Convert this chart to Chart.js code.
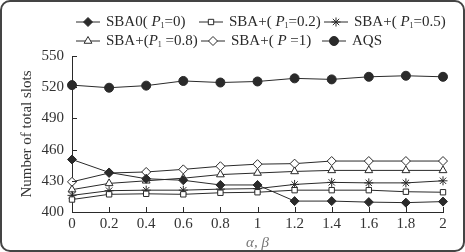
<!DOCTYPE html>
<html lang="en">
<head>
<meta charset="UTF-8">
<script src="https://cdn.jsdelivr.net/npm/chart.js@4"></script>
<style>
    body { margin: 0; background: #fff; }
    #wrap { position: relative; width: 465px; height: 252px; }
    #frame {
        position: absolute; left: 0; top: 0; right: 0; bottom: 0;
        border: 2px solid #444; border-radius: 10px;
        box-sizing: border-box; pointer-events: none;
    }
</style>
</head>
<body>
<div id="wrap">
    <canvas id="myChart" width="465" height="252"></canvas>
    <div id="frame"></div>
</div>
<script>
// x values (alpha, beta)
var xLabels = ['0', '0.2', '0.4', '0.6', '0.8', '1', '1.2', '1.4', '1.6', '1.8', '2'];

// number of total slots per series
var sba0   = [450.5, 438, 432, 430.5, 426, 426, 410.5, 410.5, 409.5, 409, 410];
var sbaP02 = [412, 417, 417.5, 417, 418.5, 419, 421, 421, 421, 419.5, 419];
var sbaP05 = [416, 420.5, 421, 421, 422, 422.5, 426.5, 428.5, 428, 428, 430];
var sbaP08 = [421.5, 427.5, 430, 432.5, 436, 437.5, 439, 440, 440, 440, 440];
var sbaP1  = [429, 437.5, 438.5, 441, 444, 446, 446.5, 449, 449, 449, 449];
var aqs    = [522, 519.5, 521.5, 526, 524.5, 525.5, 528.5, 527.5, 530, 531, 530];

var yTicks = [400, 430, 460, 490, 520, 550];

// legend texts, split in [text, italic?, subscript?] parts
var legendParts = [
    [['SBA0( '], ['P', 1], ['1', 0, 1], ['=0)']],
    [['SBA+( '], ['P', 1], ['1', 0, 1], ['=0.2)']],
    [['SBA+( '], ['P', 1], ['1', 0, 1], ['=0.5)']],
    [['SBA+('], ['P', 1], ['1', 0, 1], [' =0.8)']],
    [['SBA+( '], ['P', 1], [' =1)']],
    [['AQS']]
];

var FONT = "'Liberation Serif', 'DejaVu Serif', serif";
var INK = '#2a2a2a';

function series(label, data, style, fill, r) {
    return {
        label: label,
        data: data,
        borderColor: INK,
        borderWidth: 1,
        pointStyle: style,
        pointRadius: r,
        pointHoverRadius: r,
        pointBackgroundColor: fill,
        pointBorderColor: INK,
        pointBorderWidth: 1,
        tension: 0,
        fill: false
    };
}

var datasets = [
    series('SBA0', sba0, 'rectRot', INK, 4.5),
    series('P0.2', sbaP02, 'rect', '#fff', 3.8),
    series('P0.5', sbaP05, 'star', '#fff', 4.5),
    series('P0.8', sbaP08, 'triangle', '#fff', 4.5),
    series('P1', sbaP1, 'rectRot', '#fff', 4.5),
    series('AQS', aqs, 'circle', INK, 4.5)
];

// legend drawn by hand so the italic P and subscript can be shown
var legendSpots = [[76, 22], [199, 22], [324, 22], [76, 41], [201, 41], [322, 41]];

var legendPlugin = {
    id: 'handLegend',
    afterDraw: function (chart) {
        var ctx = chart.ctx;
        ctx.save();
        chart.data.datasets.forEach(function (ds, i) {
            var x = legendSpots[i][0], y = legendSpots[i][1];
            ctx.strokeStyle = INK;
            ctx.lineWidth = 1;
            ctx.beginPath();
            ctx.moveTo(x, y);
            ctx.lineTo(x + 24, y);
            ctx.stroke();
            ctx.fillStyle = ds.pointBackgroundColor;
            Chart.helpers.drawPoint(ctx, {
                pointStyle: ds.pointStyle, radius: ds.pointRadius, rotation: 0, borderWidth: 1
            }, x + 12, y);
            var tx = x + 30;
            ctx.fillStyle = INK;
            ctx.textBaseline = 'middle';
            legendParts[i].forEach(function (p) {
                if (p[2]) {
                    ctx.font = '8px ' + FONT;
                    ctx.fillText(p[0], tx, y + 4);
                } else {
                    ctx.font = (p[1] ? 'italic ' : '') + '15px ' + FONT;
                    ctx.fillText(p[0], tx, y);
                }
                tx += ctx.measureText(p[0]).width;
            });
        });
        ctx.restore();
    }
};

// short inward tick marks on both axes
var tickPlugin = {
    id: 'inTicks',
    afterDraw: function (chart) {
        var ctx = chart.ctx, area = chart.chartArea;
        var xs = chart.scales.x, ys = chart.scales.y;
        ctx.save();
        ctx.strokeStyle = INK;
        ctx.lineWidth = 1;
        ctx.beginPath();
        yTicks.forEach(function (v) {
            var py = Math.round(ys.getPixelForValue(v)) + 0.5;
            ctx.moveTo(area.left, py);
            ctx.lineTo(area.left + 5, py);
        });
        xLabels.forEach(function (l, i) {
            var px = Math.round(xs.getPixelForValue(i)) + 0.5;
            ctx.moveTo(px, area.bottom);
            ctx.lineTo(px, area.bottom - 5);
        });
        ctx.stroke();
        ctx.restore();
    }
};

var ctx = document.getElementById('myChart').getContext('2d');
var myChart = new Chart(ctx, {
    type: 'line',
    data: { labels: xLabels, datasets: datasets },
    options: {
        responsive: false,
        animation: false,
        layout: { padding: { top: 56, right: 22, left: 0, bottom: 0 } },
        plugins: { legend: { display: false }, tooltip: { enabled: false } },
        scales: {
            x: {
                type: 'category',
                offset: false,
                grid: { display: false, drawTicks: false },
                border: { display: true, color: INK, width: 1 },
                ticks: { color: '#333', font: { family: FONT, size: 15 }, padding: 3, maxRotation: 0, autoSkip: false },
                title: {
                    display: true, text: 'α, β', color: '#777',
                    font: { family: FONT, size: 15, style: 'italic' }, padding: 0
                },
                afterFit: function (s) { s.height = 40; }
            },
            y: {
                min: 400,
                max: 550,
                grid: { display: false, drawTicks: false },
                border: { display: true, color: INK, width: 1 },
                ticks: { stepSize: 30, color: '#333', font: { family: FONT, size: 15 }, padding: 8 },
                title: {
                    display: true, text: 'Number of total slots', color: '#333',
                    font: { family: FONT, size: 15 }, padding: { top: 18, bottom: 0 }
                },
                afterFit: function (s) { s.width = 72; }
            }
        }
    },
    plugins: [legendPlugin, tickPlugin]
});
</script>
</body>
</html>
